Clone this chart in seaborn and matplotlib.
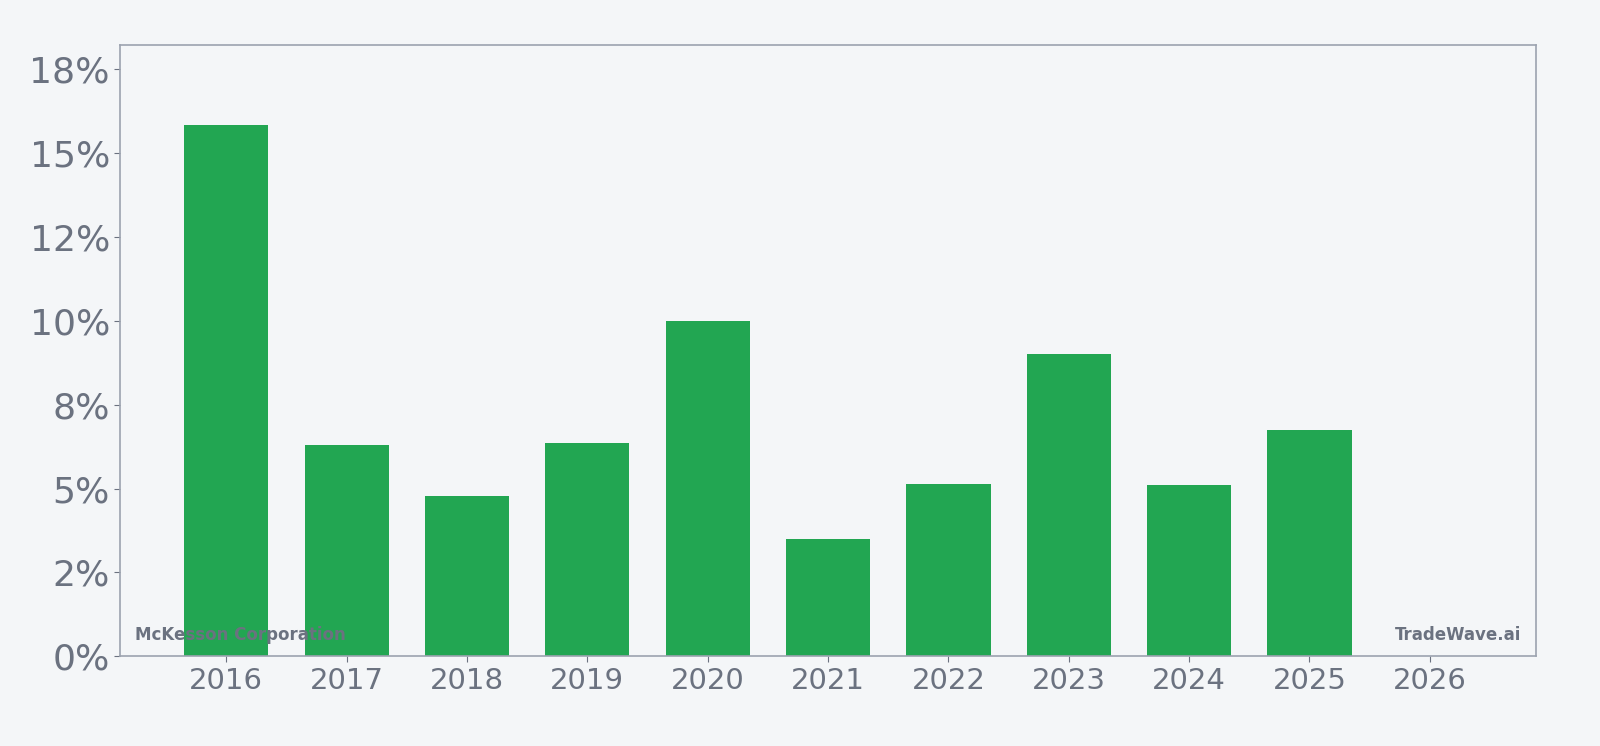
import matplotlib
matplotlib.use("Agg")
import matplotlib.pyplot as plt
import seaborn as sns
import pandas as pd
from matplotlib.ticker import FuncFormatter, MultipleLocator

years = ["2016", "2017", "2018", "2019", "2020", "2021", "2022", "2023", "2024", "2025", "2026"]
growth = [15.83, 6.30, 4.78, 6.36, 10.01, 3.50, 5.14, 9.01, 5.11, 6.76, 0.0]

df = pd.DataFrame({"year": years, "growth": growth})

bg = "#f4f6f8"
grey = "#6b7280"

# reference measured on a 1568x731 view
W, H = 1568, 731
fig = plt.figure(figsize=(16, 7.46), dpi=100, facecolor=bg)
ax = fig.add_axes([118 / W, 1 - 643 / H, 1387 / W, 599 / H])
ax.set_facecolor(bg)

sns.barplot(data=df, x="year", y="growth", color="#22a652", saturation=1, width=0.7, ax=ax)

ax.set_xlim(-0.88, 10.88)
ax.set_ylim(0, 18.23)
ax.yaxis.set_major_locator(MultipleLocator(2.5))
ax.yaxis.set_major_formatter(FuncFormatter(lambda v, p: f"{v:.0f}%"))
ax.set_xlabel("")
ax.set_ylabel("")
ax.tick_params(axis="y", labelsize=26, colors=grey, length=4)
ax.tick_params(axis="x", labelsize=21, colors=grey, length=4)
for s in ax.spines.values():
    s.set_color("#9ca3af")
    s.set_linewidth(1.2)

ax.text(0.01, 0.02, "McKesson Corporation", transform=ax.transAxes, fontsize=12,
        fontweight="bold", color=grey, ha="left", va="bottom")
ax.text(0.99, 0.02, "TradeWave.ai", transform=ax.transAxes, fontsize=12,
        fontweight="bold", color=grey, ha="right", va="bottom")

fig.savefig("out.png", dpi=100, facecolor=bg)
